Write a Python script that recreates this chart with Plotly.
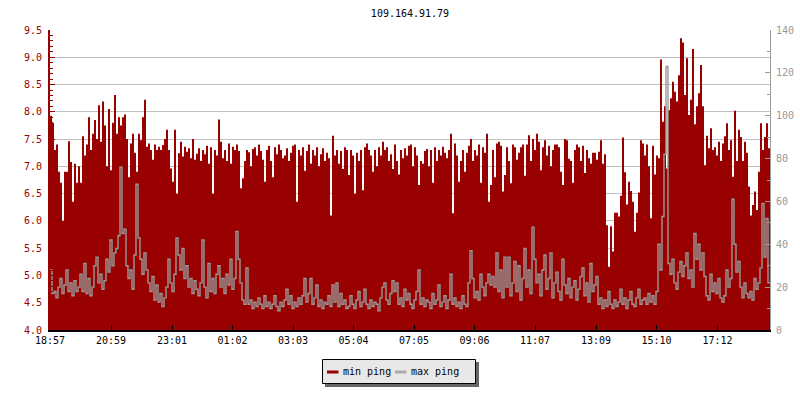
import numpy as np
import pandas as pd
import plotly.graph_objects as go

TITLE = "109.164.91.79"
START = "2013-03-11 18:57"
STEP_MINUTES = 4

MIN_PING = [
    7.93, 7.8, 7.3, 7.4, 6.9, 6.7, 6.0, 6.9, 6.9, 7.46,
    7.08, 6.35, 7.05, 6.7, 7.0, 6.7, 7.55, 7.2, 7.4, 7.9,
    7.3, 7.6, 7.85, 7.5, 8.12, 7.45, 8.19, 7.75, 7.0, 8.05,
    6.93, 7.8, 8.31, 7.6, 7.9, 7.75, 7.9, 7.95, 7.5, 6.8,
    7.42, 7.6, 7.25, 6.9, 7.6, 7.48, 7.9, 8.22, 7.36, 7.42,
    7.3, 7.12, 7.4, 7.3, 7.36, 7.3, 7.39, 7.5, 7.67, 7.3,
    6.96, 6.72, 7.67, 6.5, 7.24, 7.45, 7.18, 7.36, 7.27, 7.33,
    7.15, 7.5, 7.12, 7.23,
    7.33, 7.1, 7.3, 7.22, 7.38, 7.05, 7.35, 6.5, 7.3, 7.2,
    7.86, 7.45, 7.15, 7.3, 7.1, 7.42, 7.05, 7.36, 7.3, 7.4,
    7.28, 6.6, 6.78, 7.1, 7.3, 7.26, 7.0, 7.32, 7.35, 7.2,
    7.4, 7.28, 7.12, 6.72, 7.3, 7.38, 7.1, 6.8, 7.35, 7.22,
    7.4, 7.3, 7.15, 7.2, 7.33, 7.1, 7.25, 7.38, 7.4, 6.35,
    7.3, 7.2, 7.35, 6.92, 7.28, 7.4, 7.05, 7.3, 7.2, 7.35,
    7.0, 7.22, 7.33, 7.1, 7.25, 7.15, 6.1, 7.56, 7.2, 7.3,
    7.05, 7.28, 6.95, 7.35, 7.3,
    6.84, 7.3, 7.2, 6.5, 7.25, 7.1, 7.3, 6.56, 7.35, 7.42,
    7.3, 7.2, 6.9, 7.3, 7.0, 7.35, 7.2, 7.45, 7.3, 7.35,
    7.1, 7.22, 6.95, 7.4, 7.1, 6.85, 7.3, 7.15, 7.33, 7.2,
    7.38, 7.4, 7.0, 7.35, 7.2, 6.66, 7.1, 7.05, 7.28, 7.32,
    7.0, 7.3, 6.7, 7.35, 7.1, 7.3, 7.2, 7.36, 7.25, 7.15,
    7.3, 7.6, 6.14, 7.42, 7.2, 6.72, 7.1, 7.3, 6.9, 7.25,
    7.38, 7.5, 7.1, 7.3, 7.2, 7.4, 6.7, 7.35, 7.25, 7.6,
    6.35, 6.66, 7.3, 6.8,
    7.42, 7.45, 7.38, 6.54, 6.84, 7.35, 7.1, 6.69, 7.4, 7.35,
    7.12, 7.25, 7.35, 7.4, 6.83, 7.4, 7.57, 7.1, 7.5, 7.3,
    7.6, 7.45, 6.93, 7.35, 7.48, 7.2, 7.38, 7.0, 7.3, 7.4,
    7.4, 7.35, 6.9, 6.66, 7.5, 7.48, 7.14, 7.1, 6.7, 7.3,
    7.4, 7.35, 7.1, 7.38, 6.88, 7.3, 7.15, 7.05, 7.25, 7.25,
    7.12, 7.27, 7.48, 7.05, 7.22, 5.92, 5.16, 5.9, 5.44, 6.15,
    6.15, 6.08, 6.46, 7.53, 6.89, 6.3, 6.72, 6.55, 6.35, 5.8,
    6.15, 6.52, 7.48, 7.42,
    7.2, 7.4, 7.0, 6.05, 7.38, 6.85, 7.2, 7.15, 8.96, 7.82,
    8.1, 6.96, 8.03, 8.25, 8.55, 8.37, 8.19, 8.67, 9.35, 9.27,
    8.31, 8.98, 7.94, 8.22, 9.15, 7.77, 8.1, 8.34, 8.86, 8.1,
    7.02, 7.56, 7.33, 7.7, 7.3, 7.35, 7.2, 7.45, 7.1, 7.42,
    7.55, 7.79, 7.3, 7.48, 6.81, 8.02, 7.1, 7.67, 7.54, 7.1,
    7.45, 7.25, 6.63, 6.1, 6.29, 6.54, 6.2, 6.9, 7.79, 7.3,
    7.54, 7.79, 7.33,
]

MAX_PING = [
    28, 17, 18, 15, 20, 24, 17, 21, 28, 18,
    22, 16, 23, 18, 20, 26, 18, 31, 17, 24,
    16, 20, 30, 34, 22, 26, 19, 23, 33, 27,
    42, 30, 36, 38, 44, 76, 45, 47, 30, 24,
    28, 19, 35, 68, 43, 33, 26, 36, 28, 22,
    18, 25, 14, 21, 13, 17, 11, 15, 20, 33,
    22, 18, 26, 43, 35, 28, 38, 24, 30, 20,
    24, 17, 23, 19, 16, 22, 42, 20, 15, 31,
    18, 24, 17, 26, 30, 20, 24, 17, 26, 21,
    33, 19, 24, 46, 33, 22, 14, 12, 29, 12,
    14, 10, 13, 11, 15, 12, 10, 16, 11, 13,
    10, 12, 16, 11, 9, 13, 11, 14, 19, 12,
    16, 10, 13, 11, 15, 12, 16, 24, 13, 17,
    24, 12, 15, 21, 11, 14, 10, 13, 12, 16,
    11, 21, 13, 22, 11, 17, 12, 14, 10, 11,
    16, 12, 10, 14, 18, 11, 13, 19, 12, 10,
    14, 11, 13, 12, 9, 15, 20, 22, 14, 12,
    17, 23, 18, 22, 12, 15, 11, 19, 14, 17,
    12, 10, 14, 18, 28, 12, 15, 11, 14, 13,
    10, 17, 12, 14, 21, 11, 13, 16, 10, 14,
    26, 12, 15, 11, 13, 10, 16, 12, 11, 22,
    37, 24, 15, 18, 14, 26, 20, 16, 22, 26,
    21, 25, 20, 36, 18, 28, 15, 34, 20, 34,
    16, 22, 32, 18, 30, 14, 24, 38, 20, 28,
    17, 48, 33, 22, 26, 16, 28, 35, 19, 24,
    36, 15, 22, 27, 18, 14, 33, 21, 17, 24,
    15, 20, 23, 14, 19, 25, 29, 16, 22, 13,
    31, 18, 21, 25, 12, 15, 10, 14, 11, 18,
    12, 10, 14, 11, 13, 19, 12, 15, 10, 14,
    18, 12, 11, 15, 19, 12, 14, 15, 12, 17,
    13, 16, 12, 18, 40, 28, 53, 82, 123, 31,
    26, 33, 22, 19, 27, 32, 25, 30, 36, 24,
    28, 20, 45, 33, 40, 28, 36, 25, 16, 14,
    26, 18, 22, 17, 24, 15, 13, 16, 28, 20,
    24, 61, 40, 27, 32, 20, 15, 22, 17, 15,
    18, 14, 24, 19, 22, 29, 59, 34, 52, 22,
]

TICK_LABELS = ["18:57", "20:59", "23:01", "01:02", "03:03", "05:04",
               "07:05", "09:06", "11:07", "13:09", "15:10", "17:12"]
LEFT_TICKS = [4.0, 4.5, 5.0, 5.5, 6.0, 6.5, 7.0, 7.5, 8.0, 8.5, 9.0, 9.5]
RIGHT_TICKS = [0, 20, 40, 60, 80, 100, 120, 140]
LEGEND_NAMES = ["min ping", "max ping"]

RED = "#990000"
GREY = "#999999"
FONT = "DejaVu Sans Mono"

start = pd.Timestamp(START)
times = list(pd.date_range(start, periods=len(MIN_PING), freq=f"{STEP_MINUTES}min"))
end = start + pd.Timedelta(days=1)
x_step = times + [times[-1] + pd.Timedelta(minutes=STEP_MINUTES)]
min_step = MIN_PING + [MIN_PING[-1]]
max_step = MAX_PING + [MAX_PING[-1]]

tickvals = []
for lbl in TICK_LABELS:
    t = pd.Timestamp(START[:10] + " " + lbl)
    if t < start:
        t += pd.Timedelta(days=1)
    tickvals.append(t)

fig = go.Figure()
fig.add_trace(go.Scatter(
    x=x_step, y=min_step, mode="lines", name=LEGEND_NAMES[0],
    line=dict(width=0, shape="hv", color=RED),
    fill="tozeroy", fillcolor=RED, showlegend=False, hoverinfo="skip"))
fig.add_trace(go.Scatter(
    x=x_step, y=max_step, mode="lines", name=LEGEND_NAMES[1], yaxis="y2",
    line=dict(width=1.4, shape="hv", color=GREY), showlegend=False, hoverinfo="skip"))

# pixel -> paper helpers (plot area x 50..770, y 30..330)
def px(x):
    return (x - 50) / 720.0

def py(y):
    return (330 - y) / 300.0

shapes = [
    dict(type="rect", xref="paper", yref="paper", x0=px(325), x1=px(479), y0=py(387), y1=py(362),
         fillcolor="#666666", line=dict(width=0), layer="above"),
    dict(type="rect", xref="paper", yref="paper", x0=px(322.5), x1=px(475.5), y0=py(383.5), y1=py(359.5),
         fillcolor="#e8e8e8", line=dict(width=1, color="black"), layer="above"),
    dict(type="line", xref="paper", yref="paper", x0=px(327), x1=px(338.5), y0=py(372), y1=py(372),
         line=dict(width=3, color=RED), layer="above"),
    dict(type="line", xref="paper", yref="paper", x0=px(395), x1=px(406.5), y0=py(372), y1=py(372),
         line=dict(width=3, color="#aaaaaa"), layer="above"),
]
annotations = [
    dict(xref="paper", yref="paper", x=px(340.5), y=py(371), text=LEGEND_NAMES[0], showarrow=False,
         xanchor="left", yanchor="middle", font=dict(family=FONT, size=10, color="black")),
    dict(xref="paper", yref="paper", x=px(409), y=py(371), text=LEGEND_NAMES[1], showarrow=False,
         xanchor="left", yanchor="middle", font=dict(family=FONT, size=10, color="black")),
]

fig.update_layout(
    width=800, height=400,
    margin=dict(l=50, r=30, t=30, b=70, autoexpand=False),
    paper_bgcolor="white", plot_bgcolor="white",
    font=dict(family=FONT, size=10, color="black"),
    title=dict(text=TITLE, x=0.5, xref="paper", y=1 - 13 / 400, yref="container",
               xanchor="center", yanchor="middle", font=dict(family=FONT, size=10, color="black")),
    showlegend=False,
    shapes=shapes,
    annotations=annotations,
    xaxis=dict(
        type="date", range=[start, end], tickvals=tickvals, ticktext=TICK_LABELS,
        ticks="inside", ticklen=5, tickcolor="black", showline=True, linecolor="black",
        linewidth=1.5, showgrid=False, zeroline=False,
        tickfont=dict(family=FONT, size=10, color="black")),
    yaxis=dict(
        range=[4.0, 9.5], tickvals=LEFT_TICKS, tickformat=".1f",
        ticks="inside", ticklen=5, tickcolor=RED, showline=True, linecolor=RED, linewidth=2,
        showgrid=True, gridcolor="#c0c0c0", gridwidth=1, zeroline=False,
        tickfont=dict(family=FONT, size=10, color=RED), ticklabelstandoff=4,
        minor=dict(dtick=0.1, tick0=4.0, ticks="inside", ticklen=3, tickcolor=RED, showgrid=False)),
    yaxis2=dict(
        range=[0, 140], tickvals=RIGHT_TICKS, overlaying="y", side="right",
        ticks="inside", ticklen=5, tickcolor=GREY, showline=True, linecolor=GREY, linewidth=1,
        showgrid=False, zeroline=False,
        tickfont=dict(family=FONT, size=10, color=GREY), ticklabelstandoff=3,
        minor=dict(dtick=10, tick0=0, ticks="inside", ticklen=3, tickcolor=GREY, showgrid=False)),
)

fig.write_html(
    "out.html",
    config={"displayModeBar": False, "staticPlot": True},
    post_script="document.body.style.margin='0';document.body.style.overflow='hidden';",
)
